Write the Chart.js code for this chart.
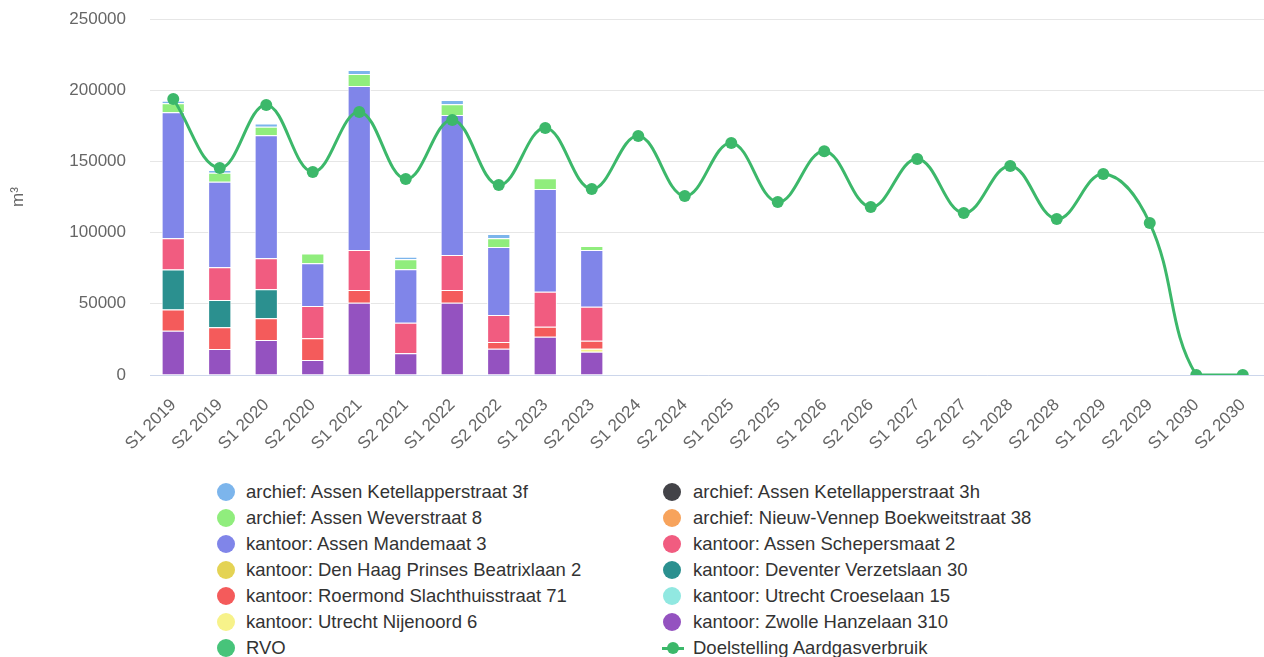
<!DOCTYPE html>
<html>
<head>
<meta charset="utf-8">
<script src="https://cdn.jsdelivr.net/npm/chart.js@4/dist/chart.umd.min.js"></script>
<style>
  html, body { margin: 0; padding: 0; background: #fff; }
  body { width: 1264px; height: 657px; overflow: hidden; position: relative; font-family: "Liberation Sans", Arial, sans-serif; }
  #wrap { position: absolute; left: 0; top: 0; width: 1272px; height: 470px; }
  #legend { position: absolute; left: 0; top: 479px; width: 1264px; }
  .item { position: absolute; height: 26px; line-height: 26px; font-size: 18.5px; color: #333; white-space: nowrap; }
  .dot { position: absolute; left: 0; top: 4px; width: 18px; height: 18px; border-radius: 50%; }
  .txt { position: absolute; top: 0; }
  .lineSym { position: absolute; left: -1px; top: 11.5px; width: 22px; height: 3px; }
  .lineDot { position: absolute; left: 4px; top: 7px; width: 12px; height: 12px; border-radius: 50%; }
</style>
</head>
<body>
<div id="wrap"><canvas id="c"></canvas></div>
<div id="legend"></div>
<script>
const categories = ["S1 2019","S2 2019","S1 2020","S2 2020","S1 2021","S2 2021","S1 2022","S2 2022","S1 2023","S2 2023","S1 2024","S2 2024","S1 2025","S2 2025","S1 2026","S2 2026","S1 2027","S2 2027","S1 2028","S2 2028","S1 2029","S2 2029","S1 2030","S2 2030"];

// stacked bar series (m³), bottom to top
const zwolleHanzelaan   = [31000, 18300, 24600, 10500, 50800, 15200, 50800, 18500, 26900, 16400];
const utrechtNijenoord  = [null, null, null, null, null, null, null, null, null, 2100];
const roermond          = [15000, 15200, 15200, 15300, 8900, null, 8900, 4600, 7000, 5600];
const deventer          = [28000, 19200, 20400, null, null, null, null, null, null, null];
const schepersmaat      = [22000, 22900, 21700, 22700, 28100, 21500, 24600, 19100, 24600, 23900];
const mandemaat         = [88500, 60100, 86400, 29900, 115200, 37500, 98300, 47600, 72100, 39800];
const weverstraat       = [6300, 6400, 6100, 7000, 8400, 7100, 7500, 6300, 7500, 2800];
const ketellapper3f     = [1800, 1900, 2300, null, 2800, 1800, 3000, 3000, null, null];
const ketellapper3h     = [];
const nieuwVennep       = [];
const denHaag           = [];
const utrechtCroeselaan = [];
const rvo               = [];

// target line
const doelstelling = [193800, 145400, 189600, 142600, 184700, 137600, 179100, 133400, 173500, 130600, 167800, 125700, 162900, 121500, 157200, 118000, 151700, 113800, 146800, 109600, 141200, 106700, 0, 0];

const yTicks = [0, 50000, 100000, 150000, 200000, 250000];

const colors = {
  k3f: "#7cb5ec", k3h: "#434348", wever: "#90ed7d", vennep: "#f7a35c",
  mande: "#8085e9", scheper: "#f15c80", denhaag: "#e4d354", deventer: "#2b908f",
  roermond: "#f45b5b", croese: "#91e8e1", nijenoord: "#f7f28a", zwolle: "#9452c0",
  rvo: "#47c47a", doel: "#3cb86a"
};

const bar = (label, data, color) => ({
  type: "bar", label, data, backgroundColor: color, borderColor: "#ffffff",
  borderWidth: 1, stack: "s", order: 1, categoryPercentage: 0.5, barPercentage: 1
});

const datasets = [
  {
    type: "line", label: "Doelstelling Aardgasverbruik", data: doelstelling,
    borderColor: colors.doel, backgroundColor: colors.doel, borderWidth: 3,
    pointRadius: 6, pointBackgroundColor: colors.doel, pointBorderColor: colors.doel,
    pointBorderWidth: 0, tension: 0.4, fill: false, order: 0
  },
  bar("kantoor: Zwolle Hanzelaan 310", zwolleHanzelaan, colors.zwolle),
  bar("kantoor: Utrecht Nijenoord 6", utrechtNijenoord, colors.nijenoord),
  bar("kantoor: Roermond Slachthuisstraat 71", roermond, colors.roermond),
  bar("kantoor: Deventer Verzetslaan 30", deventer, colors.deventer),
  bar("kantoor: Assen Schepersmaat 2", schepersmaat, colors.scheper),
  bar("kantoor: Assen Mandemaat 3", mandemaat, colors.mande),
  bar("archief: Assen Weverstraat 8", weverstraat, colors.wever),
  bar("archief: Assen Ketellapperstraat 3f", ketellapper3f, colors.k3f),
  bar("archief: Assen Ketellapperstraat 3h", ketellapper3h, colors.k3h),
  bar("archief: Nieuw-Vennep Boekweitstraat 38", nieuwVennep, colors.vennep),
  bar("kantoor: Den Haag Prinses Beatrixlaan 2", denHaag, colors.denhaag),
  bar("kantoor: Utrecht Croeselaan 15", utrechtCroeselaan, colors.croese),
  bar("RVO", rvo, colors.rvo)
];

Chart.defaults.font.family = '"Liberation Sans", Arial, sans-serif';
Chart.defaults.color = "#666";

new Chart(document.getElementById("c"), {
  data: { labels: categories, datasets },
  options: {
    responsive: true, maintainAspectRatio: false, animation: false,
    layout: { padding: { top: 19, right: 0, left: 0, bottom: 0 } },
    plugins: { legend: { display: false }, tooltip: { enabled: false } },
    scales: {
      x: {
        stacked: true,
        grid: { display: false },
        border: { display: true, color: "#ccd6eb", width: 1 },
        ticks: { autoSkip: false, minRotation: 45, maxRotation: 45, font: { size: 17 }, color: "#666", padding: 12 },
        afterFit: (s) => { s.height = 95; s.paddingLeft = 0; s.paddingRight = 0; }
      },
      y: {
        stacked: true, min: 0, max: 250000,
        afterBuildTicks: (s) => { s.ticks = yTicks.map(v => ({ value: v })); },
        ticks: { font: { size: 17 }, color: "#666", padding: 24, callback: (v) => String(v) },
        grid: { color: "#e6e6e6", drawTicks: false, lineWidth: 1 },
        border: { display: false },
        title: { display: true, text: "m³", font: { size: 17 }, color: "#666", padding: { top: 8, bottom: 4 } },
        afterFit: (s) => { s.width = 150; s.paddingTop = 0; s.paddingBottom = 0; }
      }
    }
  }
});

// HTML legend (two columns)
const legendItems = [
  ["archief: Assen Ketellapperstraat 3f", colors.k3f], ["archief: Assen Ketellapperstraat 3h", colors.k3h],
  ["archief: Assen Weverstraat 8", colors.wever], ["archief: Nieuw-Vennep Boekweitstraat 38", colors.vennep],
  ["kantoor: Assen Mandemaat 3", colors.mande], ["kantoor: Assen Schepersmaat 2", colors.scheper],
  ["kantoor: Den Haag Prinses Beatrixlaan 2", colors.denhaag], ["kantoor: Deventer Verzetslaan 30", colors.deventer],
  ["kantoor: Roermond Slachthuisstraat 71", colors.roermond], ["kantoor: Utrecht Croeselaan 15", colors.croese],
  ["kantoor: Utrecht Nijenoord 6", colors.nijenoord], ["kantoor: Zwolle Hanzelaan 310", colors.zwolle],
  ["RVO", colors.rvo], ["Doelstelling Aardgasverbruik", colors.doel, true]
];
const lg = document.getElementById("legend");
legendItems.forEach(([text, col, isLine], i) => {
  const colIdx = i % 2, row = Math.floor(i / 2);
  const el = document.createElement("div");
  el.className = "item";
  el.style.left = (colIdx === 0 ? 217 : 663) + "px";
  el.style.top = (row * 26) + "px";
  if (isLine) {
    el.innerHTML = '<span class="lineSym" style="background:' + col + '"></span><span class="lineDot" style="background:' + col + '"></span>';
  } else {
    el.innerHTML = '<span class="dot" style="background:' + col + '"></span>';
  }
  const t = document.createElement("span");
  t.className = "txt";
  t.style.left = (colIdx === 0 ? 29 : 30) + "px";
  t.textContent = text;
  el.appendChild(t);
  lg.appendChild(el);
});
</script>
</body>
</html>
